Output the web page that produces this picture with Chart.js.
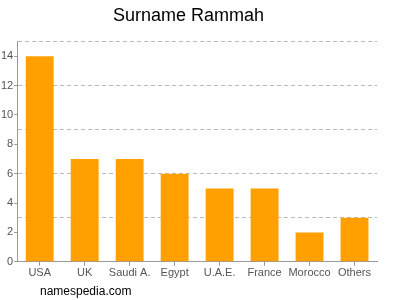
<!DOCTYPE html>
<html><head><meta charset="utf-8">
<script src="https://cdn.jsdelivr.net/npm/chart.js@4"></script>
<style>
html,body{margin:0;padding:0;background:#fff;}
#wrap{position:relative;width:400px;height:300px;}
#foot{position:absolute;left:40px;top:284px;font:12px "Liberation Sans",Arial,sans-serif;color:#000;}
</style></head>
<body><div id="wrap"><canvas id="c" width="400" height="300"></canvas><div id="foot">namespedia.com</div></div>
<script>
const categories = ["USA","UK","Saudi A.","Egypt","U.A.E.","France","Morocco","Others"];
const counts = [14,7,7,6,5,5,2,3];
const yMax = 15;
const labelStep = 2;
const gridStep = 3;

new Chart(document.getElementById('c'), {
  type: 'bar',
  data: { labels: categories, datasets: [{ data: counts, backgroundColor: '#ffa000', categoryPercentage: 1, barPercentage: 0.62 }] },
  options: {
    responsive: false, animation: false,
    layout: { padding: { left: 0, right: 23, top: 0, bottom: 19 } },
    plugins: {
      legend: { display: false }, tooltip: { enabled: false },
      title: { display: true, text: 'Surname Rammah', color: '#000', font: { family: 'Liberation Sans, Arial, sans-serif', size: 18, weight: 'normal' }, padding: { top: 5, bottom: 15 } }
    },
    scales: {
      x: {
        grid: { offset: false, drawOnChartArea: false, drawTicks: true, tickLength: 4, color: '#999' },
        border: { color: '#999' },
        ticks: { autoSkip: false, color: '#555', font: { family: 'Liberation Sans, Arial, sans-serif', size: 11 }, padding: 1, maxRotation: 0 }
      },
      y: {
        min: 0, max: yMax,
        ticks: { stepSize: 1, autoSkip: false, color: '#555', padding: 1, font: { family: 'Liberation Sans, Arial, sans-serif', size: 11 },
          callback: v => (v % labelStep === 0 ? v : '') },
        grid: {
          tickLength: 3,
          color: ctx => (ctx.tick && ctx.tick.value % gridStep === 0 && ctx.tick.value > 0) ? '#bbb' : 'rgba(0,0,0,0)',
          tickColor: ctx => (ctx.tick && ctx.tick.value % labelStep === 0) ? '#999' : 'rgba(0,0,0,0)',
          tickBorderDash: []
        },
        border: { color: '#999', dash: [4, 3] }
      }
    }
  }
});
</script></body></html>
